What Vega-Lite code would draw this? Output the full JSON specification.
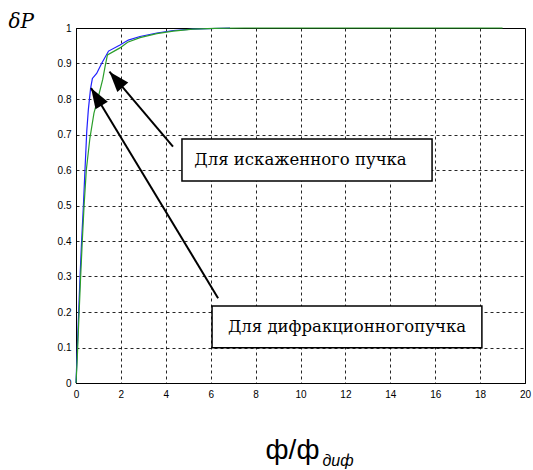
{
  "$schema": "https://vega.github.io/schema/vega-lite/v6.json",
  "width": 449,
  "height": 355,
  "autosize": {"type": "none"},
  "padding": {"left": 76, "top": 28, "right": 8, "bottom": 87},
  "background": "white",
  "config": {
    "view": {"stroke": "black", "strokeWidth": 1},
    "axis": {"labelFont": "Liberation Sans", "labelFontSize": 10, "labelColor": "black", "titleColor": "black"}
  },
  "datasets": {
    "curves": [
      {"x": 0, "y": 0, "s": "дифракционный"},
      {"x": 0.03, "y": 0.05, "s": "дифракционный"},
      {"x": 0.1, "y": 0.17, "s": "дифракционный"},
      {"x": 0.18, "y": 0.3, "s": "дифракционный"},
      {"x": 0.25, "y": 0.4, "s": "дифракционный"},
      {"x": 0.33, "y": 0.5, "s": "дифракционный"},
      {"x": 0.4, "y": 0.6, "s": "дифракционный"},
      {"x": 0.48, "y": 0.71, "s": "дифракционный"},
      {"x": 0.55, "y": 0.77, "s": "дифракционный"},
      {"x": 0.65, "y": 0.83, "s": "дифракционный"},
      {"x": 0.73, "y": 0.858, "s": "дифракционный"},
      {"x": 0.92, "y": 0.872, "s": "дифракционный"},
      {"x": 1.14, "y": 0.9, "s": "дифракционный"},
      {"x": 1.45, "y": 0.935, "s": "дифракционный"},
      {"x": 1.96, "y": 0.952, "s": "дифракционный"},
      {"x": 2.33, "y": 0.966, "s": "дифракционный"},
      {"x": 2.85, "y": 0.976, "s": "дифракционный"},
      {"x": 3.6, "y": 0.986, "s": "дифракционный"},
      {"x": 4.33, "y": 0.993, "s": "дифракционный"},
      {"x": 5.2, "y": 0.997, "s": "дифракционный"},
      {"x": 6.86, "y": 1.0, "s": "дифракционный"},
      {"x": 0, "y": 0, "s": "искаженный"},
      {"x": 0.05, "y": 0.06, "s": "искаженный"},
      {"x": 0.12, "y": 0.17, "s": "искаженный"},
      {"x": 0.2, "y": 0.29, "s": "искаженный"},
      {"x": 0.28, "y": 0.4, "s": "искаженный"},
      {"x": 0.36, "y": 0.5, "s": "искаженный"},
      {"x": 0.46, "y": 0.6, "s": "искаженный"},
      {"x": 0.62, "y": 0.69, "s": "искаженный"},
      {"x": 0.8, "y": 0.76, "s": "искаженный"},
      {"x": 0.97, "y": 0.8, "s": "искаженный"},
      {"x": 1.19, "y": 0.855, "s": "искаженный"},
      {"x": 1.29, "y": 0.89, "s": "искаженный"},
      {"x": 1.4, "y": 0.924, "s": "искаженный"},
      {"x": 1.96, "y": 0.944, "s": "искаженный"},
      {"x": 2.3, "y": 0.96, "s": "искаженный"},
      {"x": 2.85, "y": 0.973, "s": "искаженный"},
      {"x": 3.6, "y": 0.984, "s": "искаженный"},
      {"x": 4.33, "y": 0.991, "s": "искаженный"},
      {"x": 5.2, "y": 0.997, "s": "искаженный"},
      {"x": 6.2, "y": 0.999, "s": "искаженный"},
      {"x": 7.5, "y": 1.0, "s": "искаженный"},
      {"x": 19, "y": 1.0, "s": "искаженный"}
    ],
    "arrows": [
      {"id": "a1", "x": 6.33, "y": 0.239, "x2": 0.67, "y2": 0.831},
      {"id": "a2", "x": 4.32, "y": 0.666, "x2": 1.49, "y2": 0.877}
    ],
    "boxes": [
      {"label": "Для искаженного пучка", "x": 4.72, "x2": 15.86, "y": 0.687, "y2": 0.569, "cx": 10.0, "cy": 0.628},
      {"label": "Для дифракционногопучка", "x": 6.06, "x2": 18.08, "y": 0.217, "y2": 0.099, "cx": 12.07, "cy": 0.158}
    ]
  },
  "layer": [
    {
      "data": {"name": "curves"},
      "mark": {"type": "line", "strokeWidth": 1.2},
      "encoding": {
        "x": {
          "field": "x", "type": "quantitative",
          "scale": {"domain": [0, 20], "nice": false, "zero": false},
          "axis": {
            "values": [0, 2, 4, 6, 8, 10, 12, 14, 16, 18, 20],
            "grid": true, "gridColor": "black", "gridDash": [3, 3], "gridOpacity": 0.85, "gridWidth": 1,
            "ticks": false, "domainColor": "black", "labelPadding": 6, "labelFlush": false,
            "title": "ф/ф", "titleFont": "Liberation Sans", "titleFontSize": 28, "titleFontWeight": "normal",
            "titleX": 216, "titleY": 75, "titleAlign": "center", "titleBaseline": "alphabetic"
          }
        },
        "y": {
          "field": "y", "type": "quantitative",
          "scale": {"domain": [0, 1], "nice": false},
          "axis": {
            "values": [0, 0.1, 0.2, 0.3, 0.4, 0.5, 0.6, 0.7, 0.8, 0.9, 1],
            "format": "~g",
            "grid": true, "gridColor": "black", "gridDash": [3, 3], "gridOpacity": 0.85, "gridWidth": 1,
            "ticks": false, "domainColor": "black", "labelPadding": 5,
            "title": "δP", "titleFont": "DejaVu Serif", "titleFontSize": 20, "titleFontStyle": "italic", "titleFontWeight": "normal",
            "titleAngle": 0, "titleX": -68, "titleY": -1, "titleAlign": "left", "titleBaseline": "alphabetic"
          }
        },
        "color": {
          "field": "s", "type": "nominal",
          "scale": {"domain": ["дифракционный", "искаженный"], "range": ["#1f1fff", "#2a9e2a"]},
          "legend": null
        },
        "order": {"field": "x", "type": "quantitative"}
      }
    },
    {
      "data": {"name": "arrows"},
      "mark": {"type": "rule", "color": "black", "strokeWidth": 2},
      "encoding": {
        "x": {"field": "x", "type": "quantitative", "axis": null},
        "y": {"field": "y", "type": "quantitative", "axis": null},
        "x2": {"field": "x2"},
        "y2": {"field": "y2"}
      }
    },
    {
      "data": {"name": "arrows"},
      "transform": [{"filter": "datum.id === 'a1'"}],
      "mark": {"type": "point", "shape": "M0,0L-0.7,2L0.7,2Z", "filled": true, "color": "black", "opacity": 1, "size": 420, "angle": -31.3, "strokeWidth": 0},
      "encoding": {
        "x": {"field": "x2", "type": "quantitative", "axis": null},
        "y": {"field": "y2", "type": "quantitative", "axis": null}
      }
    },
    {
      "data": {"name": "arrows"},
      "transform": [{"filter": "datum.id === 'a2'"}],
      "mark": {"type": "point", "shape": "M0,0L-0.7,2L0.7,2Z", "filled": true, "color": "black", "opacity": 1, "size": 420, "angle": -40.6, "strokeWidth": 0},
      "encoding": {
        "x": {"field": "x2", "type": "quantitative", "axis": null},
        "y": {"field": "y2", "type": "quantitative", "axis": null}
      }
    },
    {
      "data": {"name": "boxes"},
      "mark": {"type": "rect", "fill": "white", "stroke": "black", "strokeWidth": 1.5},
      "encoding": {
        "x": {"field": "x", "type": "quantitative", "axis": null},
        "x2": {"field": "x2"},
        "y": {"field": "y", "type": "quantitative", "axis": null},
        "y2": {"field": "y2"}
      }
    },
    {
      "data": {"name": "boxes"},
      "mark": {"type": "text", "font": "DejaVu Serif", "fontSize": 16.5, "color": "black", "align": "center", "baseline": "middle"},
      "encoding": {
        "x": {
          "field": "cx", "type": "quantitative",
          "axis": {
            "orient": "top", "labels": false, "ticks": false, "domain": false, "grid": false,
            "title": "диф", "titleFont": "Liberation Sans", "titleFontSize": 16, "titleFontStyle": "italic", "titleFontWeight": "normal",
            "titleX": 246, "titleY": 437, "titleAlign": "left", "titleBaseline": "alphabetic", "titleAngle": 0
          }
        },
        "y": {"field": "cy", "type": "quantitative", "axis": null},
        "text": {"field": "label"}
      }
    }
  ],
  "resolve": {"axis": {"x": "independent", "y": "independent"}}
}
